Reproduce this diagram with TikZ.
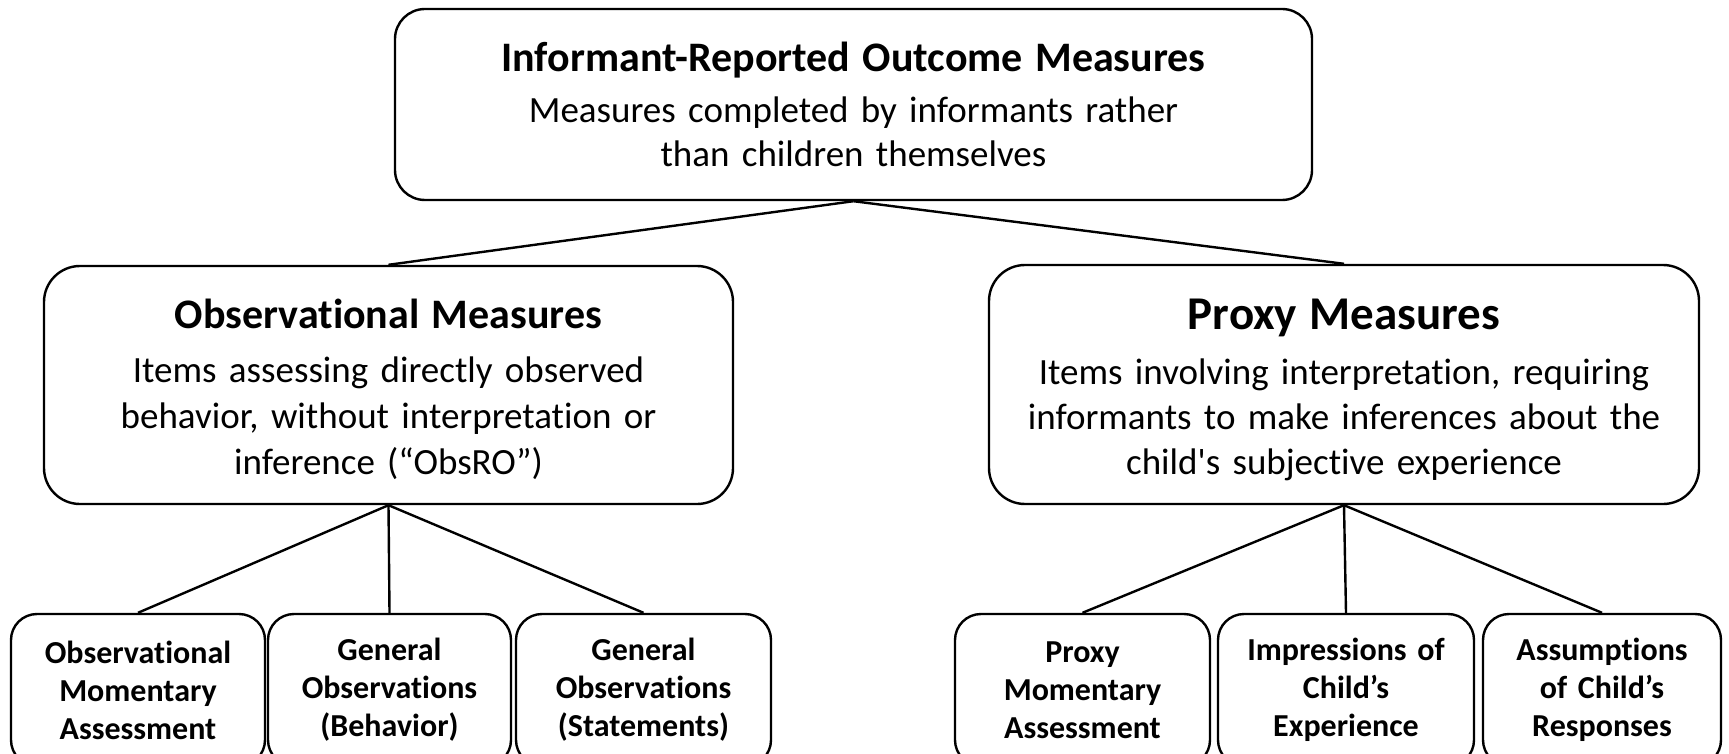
\documentclass[tikz,border=0pt]{standalone}
\usepackage{fontspec}
\setmainfont{Carlito}[Ligatures={TeX,NoCommon}]
\usepackage{tikz}
\usetikzlibrary{positioning}
\newcommand{\hdfont}{\bfseries\fontsize{21}{25}\selectfont}
\newcommand{\bigfont}{\bfseries\fontsize{23.5}{28}\selectfont}
\tikzstyle{rt}=[%
      rectangle, rounded corners=15pt, draw=black, line width=1.2pt, fill=white,
      align=center, inner sep=0pt, font=\fontsize{18.5}{22}\selectfont
]
\tikzstyle{br}=[%
      rectangle, rounded corners=18pt, draw=black, line width=1.2pt, fill=white,
      align=center, inner sep=0pt, font=\fontsize{18.5}{23}\selectfont
]
\tikzstyle{lf}=[%
      rectangle, rounded corners=13pt, draw=black, line width=1.2pt, fill=white,
      align=center, inner sep=0pt, minimum height=76pt, font=\bfseries\fontsize{16}{19}\selectfont
]
\tikzstyle{ln}=[draw=black, line width=1.2pt]

\begin{document}
\begin{tikzpicture}[x=0.5pt, y=-0.5pt]
    \useasboundingbox (0,0) rectangle (1729,754);

    \node[rt, minimum width=458.5pt, minimum height=95.5pt, text width=440pt] (root) at (853.5,104.5)
      {{\hdfont Informant-Reported Outcome Measures\par}\vspace{3.5pt}%
       Measures completed by informants rather\\than children themselves};

    \node[br, minimum width=344.5pt, minimum height=119pt, text width=330pt] (obs) at (388.5,385)
      {{\hdfont\rule{0pt}{18.6pt}Observational Measures\par}\vspace{4pt}%
       Items assessing directly observed\\behavior, without interpretation or\\inference (“ObsRO”)};
    \node[br, minimum width=355pt, minimum height=119.5pt, text width=340pt,
          font=\fontsize{18.5}{22.5}\selectfont] (proxy) at (1344,384.5)
      {{\bigfont\rule{0pt}{21pt}Proxy Measures\par}\vspace{5pt}%
       Items involving interpretation, requiring\\informants to make inferences about the\\child\textquotesingle s subjective experience};

    % observational leaves
    \node[lf, minimum width=127pt, text width=120pt]   (oma) at (138,690)    {Observational\\Momentary\\Assessment};
    \node[lf, minimum width=121.5pt, text width=115pt] (gob) at (389.5,690)  {General\\Observations\\(Behavior)};
    \node[lf, minimum width=127.5pt, text width=120pt] (gos) at (643.5,690)  {General\\Observations\\(Statements)};
    % proxy leaves
    \node[lf, minimum width=127.5pt, text width=120pt] (pma) at (1082.5,690) {Proxy\\Momentary\\Assessment};
    \node[lf, minimum width=128pt, text width=122pt]   (ice) at (1346,690)   {Impressions of\\Child’s\\Experience};
    \node[lf, minimum width=119pt, text width=113pt]   (acr) at (1602,690)   {Assumptions\\of Child’s\\Responses};

    \draw[ln] (root.south) -- (obs.north);
    \draw[ln] (root.south) -- (proxy.north);
    \foreach \x in {oma,gob,gos}
      \draw[ln] (obs.south) -- (\x.north);
    \foreach \x in {pma,ice,acr}
      \draw[ln] (proxy.south) -- (\x.north);
\end{tikzpicture}
\end{document}
